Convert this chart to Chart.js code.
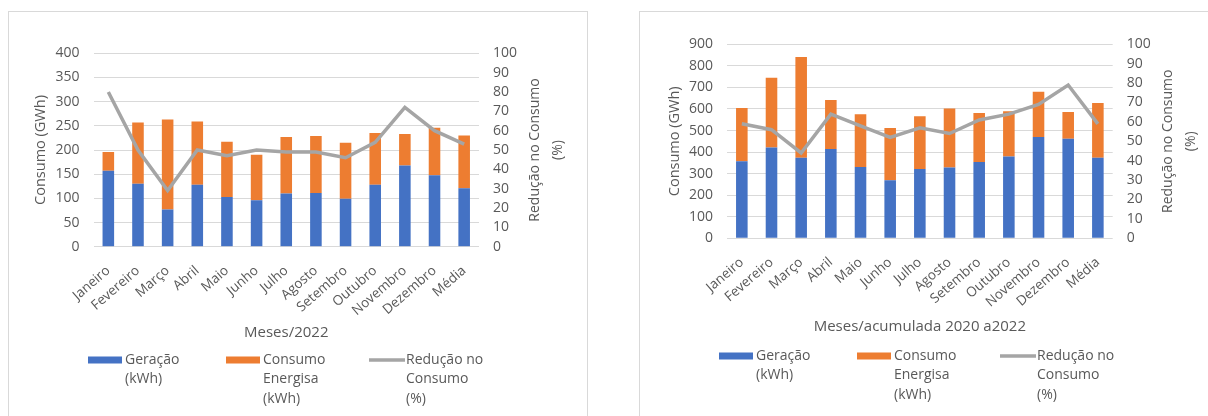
<!DOCTYPE html>
<html>
<head>
<meta charset="utf-8">
<script src="https://cdn.jsdelivr.net/npm/chart.js@4.4.0/dist/chart.umd.min.js"></script>
<style>
  body { margin: 0; width: 1208px; height: 416px; overflow: hidden; background: #fff; position: relative; }
  .frame { position: absolute; top: 11px; height: 430px; border: 1px solid #d9d9d9; box-sizing: border-box; }
  #frame1 { left: 8px; width: 580px; }
  #frame2 { left: 639px; width: 620px; }
  canvas { position: absolute; left: 0; top: 0; }
</style>
</head>
<body>
<div class="frame" id="frame1"><canvas id="chart2022" width="577" height="404"></canvas></div>
<div class="frame" id="frame2"><canvas id="chartAcum" width="590" height="404"></canvas></div>
<script>
const months = ['Janeiro', 'Fevereiro', 'Março', 'Abril', 'Maio', 'Junho', 'Julho', 'Agosto', 'Setembro', 'Outubro', 'Novembro', 'Dezembro', 'Média'];

// 2022
const geracao2022 = [157, 130, 77, 128, 103, 96, 110, 111, 99, 128, 168, 148, 121];
const consumo2022 = [39, 127, 186, 131, 114, 94, 117, 118, 116, 107, 65, 98, 109];
const reducao2022 = [80, 50, 29, 50, 47, 50, 49, 49, 46, 54, 72, 60, 53];

// acumulado 2020 a 2022
const geracaoAcum = [357, 421, 374, 414, 331, 269, 322, 328, 354, 379, 470, 462, 374];
const consumoAcum = [248, 324, 467, 228, 244, 243, 244, 274, 227, 210, 210, 124, 254];
const reducaoAcum = [59, 56, 44, 64, 58, 52, 57, 54, 61, 64, 69, 79, 59];

const legendGeracao = ['Geração', '(kWh)'];
const legendConsumo = ['Consumo', 'Energisa', '(kWh)'];
const legendReducao = ['Redução no', 'Consumo', '(%)'];
const rightTitle = ['Redução no Consumo', '(%)'];

const blue = '#4472C4';
const orange = '#ED7D31';
const gray = '#A5A5A5';
const textColor = '#595959';
const fontFamily = "'Open Sans', sans-serif";

Chart.defaults.font.family = fontFamily;
Chart.defaults.font.size = 14;
Chart.defaults.color = textColor;

const extras = {
    id: 'extras',
    afterDraw(chart, args, opts) {
        const ctx = chart.ctx;
        const area = chart.chartArea;
        ctx.save();
        ctx.fillStyle = textColor;
        ctx.font = '14px ' + fontFamily;

        // right axis title, read bottom to top
        const cy = (area.top + area.bottom) / 2;
        rightTitle.forEach((line, i) => {
            ctx.save();
            ctx.translate(area.right + opts.titleX + i * 22.5, cy);
            ctx.rotate(-Math.PI / 2);
            ctx.textAlign = 'center';
            ctx.textBaseline = 'middle';
            ctx.fillText(line, 0, 0);
            ctx.restore();
        });

        // legend under the axis title
        const itemX = [79, 217, 360];
        ctx.textAlign = 'left';
        ctx.textBaseline = 'middle';
        chart.data.datasets.forEach((ds, i) => {
            const x = itemX[i];
            const y = opts.legendY;
            if (ds.type === 'line') {
                ctx.strokeStyle = ds.borderColor;
                ctx.lineWidth = 3.5;
                ctx.beginPath();
                ctx.moveTo(x, y);
                ctx.lineTo(x + 36, y);
                ctx.stroke();
            } else {
                ctx.fillStyle = ds.backgroundColor;
                ctx.fillRect(x, y - 3.5, 34, 7);
            }
            ctx.fillStyle = textColor;
            ds.legendLines.forEach((line, j) => {
                ctx.fillText(line, x + 37, y + j * 19.5);
            });
        });
        ctx.restore();
    }
};

function makeChart(canvasId, gen, cons, red, yMax, yStep, xTitle, box) {
    const W = document.getElementById(canvasId).width;
    const H = document.getElementById(canvasId).height;
    const titleLine = 15 * 1.2;
    const titleBottom = box.titleY + titleLine / 2;
    return new Chart(document.getElementById(canvasId), {
        type: 'bar',
        data: {
            labels: months,
            datasets: [
                { label: 'Geração (kWh)', legendLines: legendGeracao, data: gen, backgroundColor: blue, order: 1, stack: 's' },
                { label: 'Consumo Energisa (kWh)', legendLines: legendConsumo, data: cons, backgroundColor: orange, order: 1, stack: 's' },
                { type: 'line', label: 'Redução no Consumo (%)', legendLines: legendReducao, data: red, borderColor: gray, backgroundColor: gray,
                  borderWidth: 3.5, pointRadius: 0, tension: 0, yAxisID: 'y1', order: 0 }
            ]
        },
        options: {
            responsive: false,
            animation: false,
            barPercentage: 0.39,
            categoryPercentage: 1,
            layout: { padding: { top: box.top, bottom: H - titleBottom, left: 0, right: 0 } },
            plugins: {
                legend: { display: false },
                tooltip: { enabled: false },
                extras: { titleX: box.rightTitleX, legendY: box.legendY }
            },
            scales: {
                x: {
                    stacked: true,
                    grid: { display: false },
                    border: { display: false },
                    ticks: { autoSkip: false, maxRotation: 41, minRotation: 41, padding: 8, font: { size: 13.5 } },
                    title: { display: true, text: xTitle, font: { size: 15 }, padding: { top: 0, bottom: 0 } },
                    afterFit: s => { s.height = titleBottom - box.bottom; }
                },
                y: {
                    stacked: true,
                    min: 0, max: yMax,
                    ticks: { stepSize: yStep, padding: 14, autoSkip: false },
                    grid: { color: '#d9d9d9', drawTicks: false },
                    border: { display: false },
                    title: { display: true, text: 'Consumo (GWh)', font: { size: 14.5 }, padding: { top: box.leftTitleX - 8.7, bottom: 0 } },
                    afterFit: s => { s.width = box.left; }
                },
                y1: {
                    position: 'right',
                    stacked: false,
                    min: 0, max: 100,
                    ticks: { stepSize: 10, padding: 14, autoSkip: false },
                    grid: { display: false, drawTicks: false },
                    border: { display: false },
                    afterFit: s => { s.width = W - box.right; }
                }
            }
        },
        plugins: [extras]
    });
}

makeChart('chart2022', geracao2022, consumo2022, reducao2022, 400, 50, 'Meses/2022',
    { left: 84.5, right: 470, top: 41.3, bottom: 234.7, titleY: 321, legendY: 348, leftTitleX: 32, rightTitleX: 56.5 });
makeChart('chartAcum', geracaoAcum, consumoAcum, reducaoAcum, 900, 100, 'Meses/acumulada 2020 a2022',
    { left: 87, right: 472.7, top: 32.3, bottom: 226.3, titleY: 315, legendY: 344, leftTitleX: 34.4, rightTitleX: 55.5 });
</script>
</body>
</html>
